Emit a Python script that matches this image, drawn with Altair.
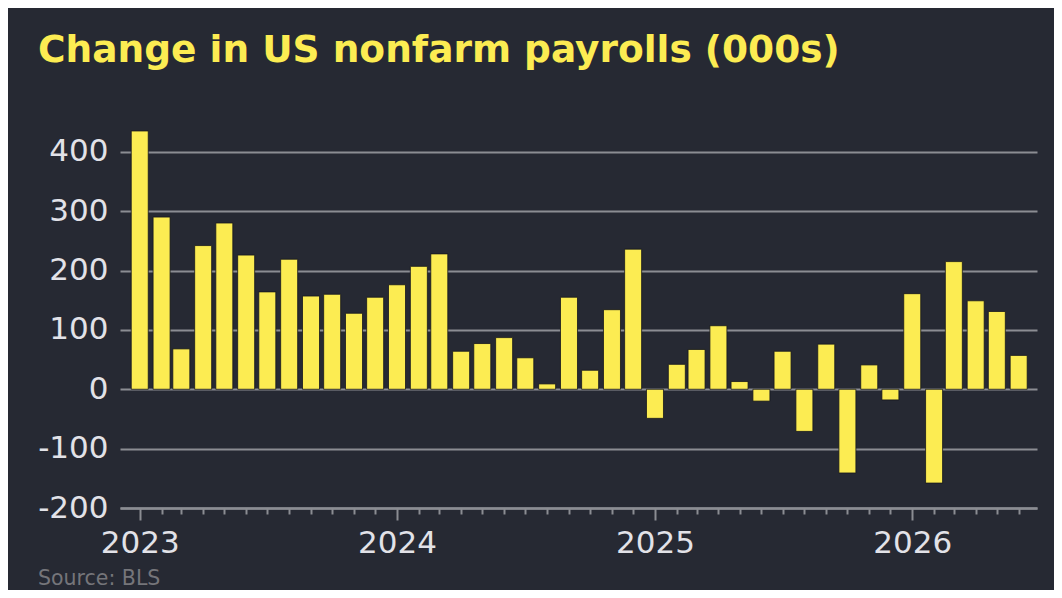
import altair as alt
import pandas as pd

months = [
    "2023-01-01", "2023-02-01", "2023-03-01", "2023-04-01", "2023-05-01", "2023-06-01",
    "2023-07-01", "2023-08-01", "2023-09-01", "2023-10-01", "2023-11-01", "2023-12-01",
    "2024-01-01", "2024-02-01", "2024-03-01", "2024-04-01", "2024-05-01", "2024-06-01",
    "2024-07-01", "2024-08-01", "2024-09-01", "2024-10-01", "2024-11-01", "2024-12-01",
    "2025-01-01", "2025-02-01", "2025-03-01", "2025-04-01", "2025-05-01", "2025-06-01",
    "2025-07-01", "2025-08-01", "2025-09-01", "2025-10-01", "2025-11-01", "2025-12-01",
    "2026-01-01", "2026-02-01", "2026-03-01", "2026-04-01", "2026-05-01", "2026-06-01",
]
changes = [
    435, 290, 68, 242, 280, 226, 164, 219, 157, 160, 128, 155,
    176, 207, 228, 64, 77, 87, 53, 9, 155, 32, 134, 236,
    -49, 42, 67, 107, 13, -20, 64, -71, 76, -141, 41, -18,
    161, -158, 215, 149, 131, 57,
]
y_ticks = [-200, -100, 0, 100, 200, 300, 400]
title_text = "Change in US nonfarm payrolls (000s)"
source_text = "Source: BLS"

BG = "#262933"
YELLOW = "#fcec52"
GRID = "#8b8d93"
LABEL = "#e2e2e8"
SOURCE = "#75757a"
FONT = "DejaVu Sans"


def ms(s):
    return int(pd.Timestamp(s, tz="UTC").value // 10**6)


month_ms = [ms(m) for m in months]
x_domain = [ms("2022-12-04"), ms("2026-06-27")]

df = pd.DataFrame({"month": months, "change": changes})

bars = alt.Chart(df).mark_bar(
    color=YELLOW, size=17, stroke="#15171c", strokeWidth=0.8
).encode(
    x=alt.X(
        "month:T",
        scale=alt.Scale(type="utc", domain=x_domain, nice=False, padding=0),
        axis=alt.Axis(
            values=month_ms,
            labelExpr="utcmonth(datum.value) == 0 ? utcFormat(datum.value, '%Y') : ''",
            tickSize={"condition": {"test": "utcmonth(datum.value) == 0", "value": 12}, "value": 6},
            tickWidth=2,
            tickColor=GRID,
            domainColor=GRID,
            domainWidth=2.5,
            grid=False,
            labelFontSize=31,
            labelFont=FONT,
            labelColor=LABEL,
            labelPadding=8,
            labelOverlap=False,
            labelFlush=False,
            title=None,
        ),
    ),
    y=alt.Y(
        "change:Q",
        scale=alt.Scale(domain=[-200, 440], nice=False, zero=False),
        axis=alt.Axis(
            values=y_ticks,
            labelExpr="datum.value + ''",
            grid=True,
            gridColor=GRID,
            gridWidth=2,
            ticks=False,
            domain=False,
            labelFontSize=31,
            labelFont=FONT,
            labelColor=LABEL,
            labelPadding=12,
            title=None,
        ),
    ),
)

source = alt.Chart(pd.DataFrame({"t": [source_text]})).mark_text(
    align="left", baseline="bottom", fontSize=20.5, font=FONT, color=SOURCE
).encode(
    x=alt.value(-82),
    y=alt.value(461),
    text="t:N",
)

chart = alt.layer(bars, source).properties(
    width=917,
    height=380,
    autosize=alt.AutoSizeParams(type="none"),
    padding={"left": 112, "top": 120, "right": 17, "bottom": 82},
    background=BG,
    title=alt.TitleParams(
        title_text,
        anchor="start",
        frame="group",
        dx=-82,
        offset=29,
        baseline="alphabetic",
        fontSize=37.5,
        font=FONT,
        fontWeight="bold",
        color=YELLOW,
    ),
).configure_view(stroke=None)

chart.save("out.html", embed_options={"renderer": "svg", "actions": False})
